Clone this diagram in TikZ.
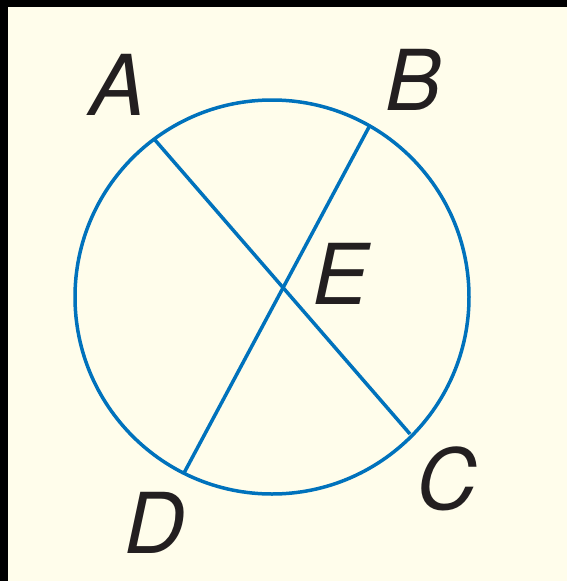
\documentclass[tikz,border=0pt]{standalone}
\usepackage{fontspec}
\setmainfont{TeX Gyre Heros}
\begin{document}
\begin{tikzpicture}[x=1pt,y=-1pt,
  geo/.style={draw={rgb,255:red,0;green,114;blue,188},line width=3.5pt},
  lbl/.style={inner sep=0pt,font=\fontsize{84}{84}\selectfont\itshape,text={rgb,255:red,35;green,31;blue,32}}]
\definecolor{cream}{RGB}{255,253,235}
\fill[black] (0,0) rectangle (567,581);
\fill[cream] (8,7) rectangle (567,581);
\useasboundingbox (0,0) rectangle (567,581);
\coordinate (O) at (272,297);
\draw[geo] (O) circle[radius=197];
\coordinate (A) at (155,140);
\coordinate (B) at (369,127);
\coordinate (C) at (410,434);
\coordinate (D) at (184,473);
\draw[geo] (A) -- (C);
\draw[geo] (B) -- (D);
\node[lbl] (lA) at (118,85) {A};
\node[lbl] (lB) at (414,80) {B};
\node[lbl] (lE) at (341,274) {E};
\node[lbl] (lC) at (447,479) {C};
\node[lbl] (lD) at (155,523) {D};
\end{tikzpicture}
\end{document}
